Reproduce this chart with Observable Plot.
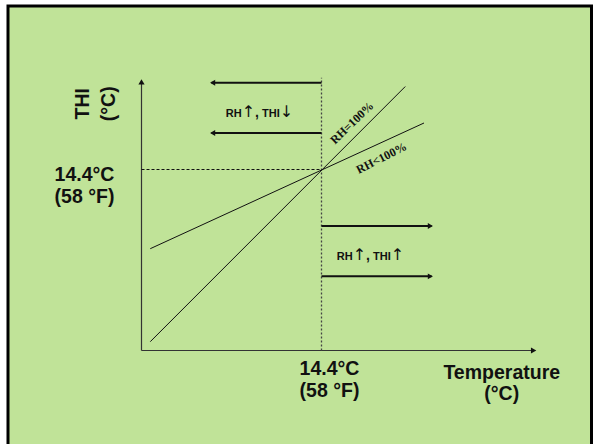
<!DOCTYPE html>
<html>
<head>
<meta charset="utf-8">
<script src="https://cdn.jsdelivr.net/npm/d3@7"></script>
<script src="https://cdn.jsdelivr.net/npm/@observablehq/plot@0.6"></script>
<style>
  html, body { margin: 0; padding: 0; background: #ffffff; }
  #chart svg { display: block; }
</style>
</head>
<body>
<div id="chart"></div>
<script>
// ---- data (°C) ----
const threshold = 14.4;            // temperature / THI crossing point
const xAxisEnd = 31.3;             // end of temperature axis
const yAxisEnd = 21.3;             // end of THI axis
const dottedTop = 21.7;            // top of vertical dotted line

const rh100T = [0.7, 21.1];        // RH = 100% line
const rh100THI = [0.7, 21.0];
const rhLowT = [0.7, 22.6];        // RH < 100% line
const rhLowTHI = [8.1, 18.1];

const leftArrowY = [21.3, 17.3];   // RH↑, THI↓ arrows
const leftArrowEnd = 5.6;
const rightArrowY = [9.9, 5.9];    // RH↑, THI↑ arrows
const rightArrowEnd = 23.2;

const tickLabel = "14.4°C\n(58 °F)";
const xTitle = "Temperature\n(°C)";
const yTitle = "THI\n(°C)";
const leftNote = "RH↑, THI↓";
const rightNote = "RH↑, THI↑";
const lineLabels = ["RH=100%", "RH<100%"];

// ---- derived tables ----
const diag = [
  {x1: rh100T[0], y1: rh100THI[0], x2: rh100T[1], y2: rh100THI[1]},
  {x1: rhLowT[0], y1: rhLowTHI[0], x2: rhLowT[1], y2: rhLowTHI[1]}
];
const leftArrows = leftArrowY.map(y => ({x1: threshold, x2: leftArrowEnd, y}));
const rightArrows = rightArrowY.map(y => ({x1: threshold, x2: rightArrowEnd, y}));
const lowAt = t => rhLowTHI[0] + (rhLowTHI[1] - rhLowTHI[0]) * (t - rhLowT[0]) / (rhLowT[1] - rhLowT[0]);

const bg = "#c0e398";
const sans = "Liberation Sans, Arial, sans-serif";
const serif = "Liberation Serif, Times New Roman, serif";

const chart = Plot.plot({
  width: 594,
  height: 444,
  margin: 0,
  style: {background: "transparent", fontFamily: sans},
  x: {type: "linear", domain: [0, threshold], range: [141, 321], axis: null},
  y: {type: "linear", domain: [0, threshold], range: [350, 169], axis: null},
  marks: [
    Plot.frame({fill: bg, stroke: "black", strokeWidth: 3, insetLeft: 7.5, insetTop: 5.5, insetRight: 3, insetBottom: -10}),
    // axes
    Plot.link([{x1: 0, y1: 0, x2: 0, y2: yAxisEnd}, {x1: 0, y1: 0, x2: xAxisEnd, y2: 0}],
      {x1: "x1", y1: "y1", x2: "x2", y2: "y2", stroke: "#333", strokeWidth: 1.2}),
    Plot.dot([{x: 0, y: yAxisEnd, r: 0}, {x: xAxisEnd, y: 0, r: 90}],
      {x: "x", y: "y", rotate: "r", symbol: "triangle", r: 2.3, fill: "#111", stroke: "none"}),
    // reference lines
    Plot.link([{x1: threshold, y1: 0, x2: threshold, y2: dottedTop}],
      {x1: "x1", y1: "y1", x2: "x2", y2: "y2", stroke: "#444", strokeWidth: 1.3, strokeDasharray: "2,2"}),
    Plot.link([{x1: 0, y1: threshold, x2: threshold, y2: threshold}],
      {x1: "x1", y1: "y1", x2: "x2", y2: "y2", stroke: "#111", strokeWidth: 1, strokeDasharray: "3,2"}),
    // RH lines
    Plot.link(diag, {x1: "x1", y1: "y1", x2: "x2", y2: "y2", stroke: "#111", strokeWidth: 1}),
    // direction arrows
    Plot.link(leftArrows, {x1: "x1", x2: "x2", y1: "y", y2: "y", stroke: "#111", strokeWidth: 2}),
    Plot.dot(leftArrows, {x: "x2", y: "y", rotate: -90, dx: 2, symbol: "triangle", r: 2.2, fill: "#111"}),
    Plot.link(rightArrows, {x1: "x1", x2: "x2", y1: "y", y2: "y", stroke: "#111", strokeWidth: 2}),
    Plot.dot(rightArrows, {x: "x2", y: "y", rotate: 90, dx: -2, symbol: "triangle", r: 2.2, fill: "#111"}),
    // tick labels
    Plot.text([tickLabel], {x: threshold, y: 0, text: d => d, dx: 8, dy: 9.2, lineAnchor: "top",
      lineHeight: 1.13, fontSize: 19.5, fontWeight: "bold", fill: "#111"}),
    Plot.text([tickLabel], {x: 0, y: threshold, text: d => d, dx: -57, dy: -4.8, lineAnchor: "top",
      lineHeight: 1.15, fontSize: 19.5, fontWeight: "bold", fill: "#111"}),
    // axis titles
    Plot.text([xTitle], {x: xAxisEnd, y: 0, text: d => d, dx: -31, dy: 13, lineAnchor: "top",
      lineHeight: 1.1, fontSize: 19.5, fontWeight: "bold", fill: "#111"}),
    Plot.text([yTitle], {x: 0, y: yAxisEnd, text: d => d, dx: -47.5, dy: 21, rotate: -90, lineAnchor: "middle",
      lineHeight: 1.3, fontSize: 19.5, fontWeight: "bold", fill: "#111"}),
    // notes
    Plot.text([leftNote], {x: (threshold + leftArrowEnd) / 2, y: (leftArrowY[0] + leftArrowY[1]) / 2, text: d => d,
      dx: -7, dy: 6, fontSize: 11, fontWeight: "bold", fill: "#111", className: "note"}),
    Plot.text([rightNote], {x: (threshold + rightArrowEnd) / 2, y: (rightArrowY[0] + rightArrowY[1]) / 2, text: d => d,
      dx: -6, dy: 5, fontSize: 11, fontWeight: "bold", fill: "#111", className: "note"}),
    // line labels
    Plot.text([lineLabels[0]], {x: 17, y: 17, text: d => d, dx: -2, dy: -14, rotate: -44,
      fontFamily: serif, fontSize: 12, fontWeight: "bold", fill: "#111"}),
    Plot.text([lineLabels[1]], {x: 19, y: lowAt(19), text: d => d, dx: 2.5, dy: 14.5, rotate: -27,
      fontFamily: serif, fontSize: 12, fontWeight: "bold", fill: "#111"})
  ]
});

// enlarge the arrow glyphs in the notes
d3.select(chart).selectAll("g.note text").each(function() {
  const s = this.textContent;
  const el = d3.select(this);
  el.text(null);
  for (const ch of s) {
    const t = el.append("tspan").text(ch);
    if (ch === "↑" || ch === "↓") t.attr("font-size", 16).attr("font-weight", "normal").attr("font-family", "DejaVu Sans, sans-serif");
    if (ch === ",") t.attr("font-size", 14);
  }
});

document.getElementById("chart").append(chart);
</script>
</body>
</html>
